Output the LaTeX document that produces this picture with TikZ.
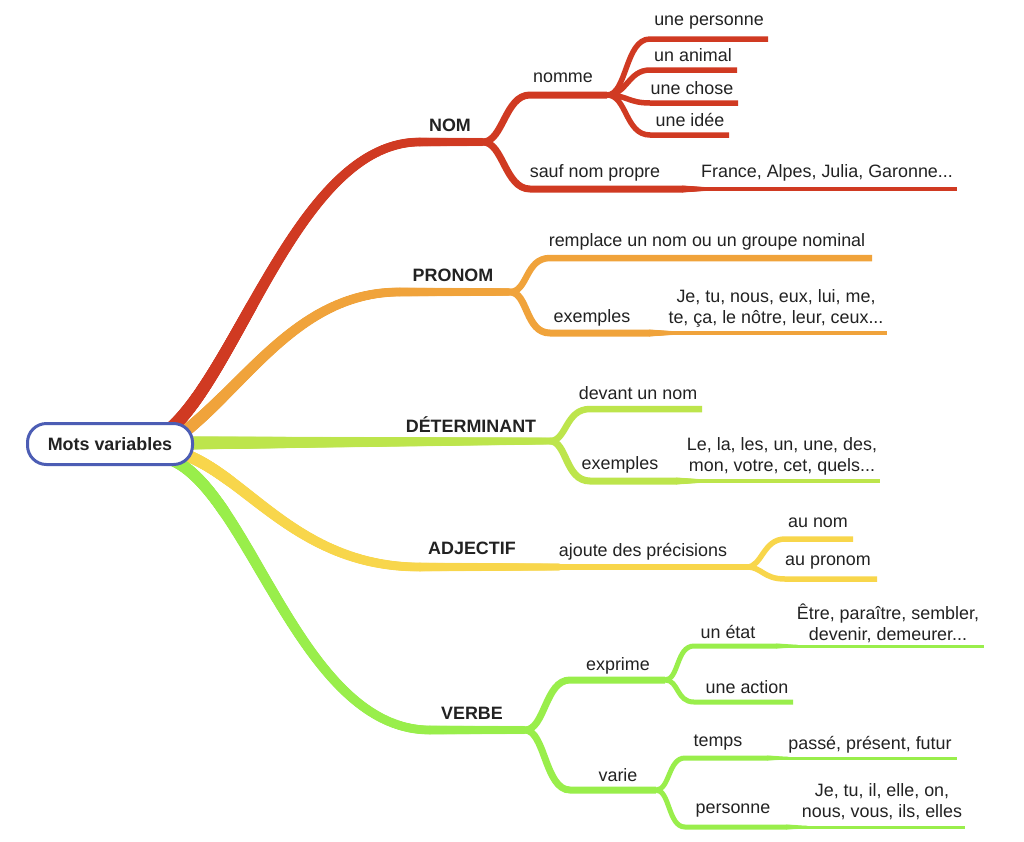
\documentclass[tikz,border=0pt]{standalone}
\usepackage{fontspec}
\setmainfont{Liberation Sans}
\usetikzlibrary{decorations.markings,backgrounds,calc}
\definecolor{cRed}{RGB}{208,58,34}
\definecolor{cOra}{RGB}{240,163,59}
\definecolor{cDet}{RGB}{189,229,76}
\definecolor{cYel}{RGB}{248,214,75}
\definecolor{cVer}{RGB}{153,238,75}
\definecolor{cBlu}{RGB}{76,93,180}
\definecolor{cTxt}{RGB}{34,34,34}
\tikzset{
  lbl/.style={font=\fontsize{17.9}{21}\selectfont, text=cTxt, inner sep=0pt, align=center},
  head/.style={lbl, font=\fontsize{17.9}{21}\selectfont\bfseries},
  rootbox/.style={draw=cBlu, line width=3pt, fill=white, rounded corners=19pt,
    minimum width=165pt, minimum height=41pt, inner sep=0pt, text=cTxt,
    font=\fontsize{17.9}{21}\selectfont\bfseries},
  taper/.style n args={3}{
    decoration={markings,
      mark=between positions 0 and 1 step 1pt with {
        \pgfmathsetmacro\tapr{0.5*(#1+(#2-#1)*\pgfkeysvalueof{/pgf/decoration/mark info/distance from start}/\pgfdecoratedpathlength)}
        \fill[#3] (0,0) circle[radius=\tapr pt];
      }},
    decorate},
  brA/.style={line width=7pt},
  brB/.style={line width=6.5pt},
  brC/.style={line width=5.5pt},
  brD/.style={line width=5pt},
  thinA/.style={line width=4pt},
  thinB/.style={line width=3pt}
}
\begin{document}
\begin{tikzpicture}[x=1pt,y=-1pt]
\useasboundingbox (0,0) rectangle (1024,841);
\node[rootbox] (root) at (110,444) {Mots variables};

% start points (behind root) and junctions
\coordinate (s1) at (168,431);
\coordinate (s2) at (183,433);
\coordinate (s3) at (186,443);
\coordinate (s4) at (186,455);
\coordinate (s5) at (170,459);
\coordinate (j1) at (483,142);
\coordinate (j1a) at (607,95);
\coordinate (j2) at (510,292);
\coordinate (j3) at (550,441);
\coordinate (j4) at (747,567);
\coordinate (j5) at (525,730);
\coordinate (j5a) at (665,680);
\coordinate (j5b) at (656,790);

% end points
\coordinate (e11) at (768,39);
\coordinate (e12) at (737,70);
\coordinate (e13) at (738,103);
\coordinate (e14) at (729,135);
\coordinate (t1) at (683,189);
\coordinate (e15) at (957,189);
\coordinate (e21) at (872,258);
\coordinate (t2) at (650,333);
\coordinate (e22) at (887,333);
\coordinate (e31) at (702,409);
\coordinate (t3) at (677,481);
\coordinate (e32) at (880,481);
\coordinate (e41) at (853,539);
\coordinate (e42) at (877,579);
\coordinate (t51) at (777,646);
\coordinate (e51) at (984,646);
\coordinate (e52) at (793,702);
\coordinate (t53) at (768,758);
\coordinate (e53) at (957,758);
\coordinate (t54) at (787,827);
\coordinate (e54) at (965,827);

\begin{scope}[on background layer]
\fill[white] (0,0) rectangle (1024,841);
% ---- main branches (tapered)
\path[taper={13}{8}{cRed}] (s1) .. controls (240,370) and (300,142) .. (420,142) -- (j1);
\path[taper={12}{7.5}{cOra}] (s2) .. controls (250,380) and (300,292) .. (400,292) -- (j2);
\path[taper={13}{7}{cDet}] (s3) -- (j3);
\path[taper={12}{7}{cYel}] (s4) .. controls (250,480) and (300,567) .. (420,567) -- (560,567);
\path[taper={12}{8}{cVer}] (s5) .. controls (250,490) and (300,730) .. (430,730) -- (j5);

% ---- NOM
\draw[cRed,brA] (j1) .. controls (503,142) and (505,95) .. (530,95) -- (j1a);
\draw[cRed,brA] (j1) .. controls (503,142) and (505,189) .. (530,189) -- (t1);
\path[taper={7}{4}{cRed}] (t1) -- ++(22,0);
\draw[cRed,thinA] (t1) -- (e15);
\draw[cRed,brC] (j1a) .. controls (627,95) and (625,39) .. (650,39) -- (e11);
\draw[cRed,brC] (j1a) .. controls (627,95) and (628,70) .. (650,70) -- (e12);
\draw[cRed,brC] (j1a) .. controls (627,95) and (628,103) .. (650,103) -- (e13);
\draw[cRed,brC] (j1a) .. controls (627,95) and (625,135) .. (650,135) -- (e14);

% ---- PRONOM
\draw[cOra,brB] (j2) .. controls (528,292) and (525,258) .. (550,258) -- (e21);
\draw[cOra,brA] (j2) .. controls (528,292) and (525,333) .. (550,333) -- (t2);
\path[taper={7}{4}{cOra}] (t2) -- ++(22,0);
\draw[cOra,thinA] (t2) -- (e22);

% ---- DETERMINANT
\draw[cDet,brB] (j3) .. controls (567,441) and (565,409) .. (590,409) -- (e31);
\draw[cDet,brA] (j3) .. controls (567,441) and (565,481) .. (590,481) -- (t3);
\path[taper={7}{4}{cDet}] (t3) -- ++(22,0);
\draw[cDet,thinA] (t3) -- (e32);

% ---- ADJECTIF
\draw[cYel,brB] (540,567) -- (j4);
\draw[cYel,brC] (j4) .. controls (762,567) and (763,539) .. (785,539) -- (e41);
\draw[cYel,brC] (j4) .. controls (762,567) and (763,579) .. (785,579) -- (e42);

% ---- VERBE
\draw[cVer,brA] (j5) .. controls (545,730) and (545,680) .. (570,680) -- (j5a);
\draw[cVer,brA] (j5) .. controls (545,730) and (545,790) .. (570,790) -- (j5b);
\draw[cVer,brD] (j5a) .. controls (679,680) and (676,646) .. (694,646) -- (t51);
\path[taper={5}{3}{cVer}] (t51) -- ++(20,0);
\draw[cVer,thinB] (t51) -- (e51);
\draw[cVer,brD] (j5a) .. controls (679,680) and (676,702) .. (694,702) -- (e52);
\draw[cVer,brD] (j5b) .. controls (670,790) and (668,758) .. (685,758) -- (t53);
\path[taper={5}{3}{cVer}] (t53) -- ++(20,0);
\draw[cVer,thinB] (t53) -- (e53);
\draw[cVer,brD] (j5b) .. controls (670,790) and (668,827) .. (685,827) -- (t54);
\path[taper={5}{3}{cVer}] (t54) -- ++(20,0);
\draw[cVer,thinB] (t54) -- (e54);
\end{scope}

% ---- labels
\node[head] (nom) at (450,125) {NOM};
\node[lbl] (nomme) at (563,78) {nomme};
\node[lbl] (pers) at (709,23) {une personne};
\node[lbl] (anim) at (693,55) {un animal};
\node[lbl] (chose) at (692,88) {une chose};
\node[lbl] (idee) at (690,120) {une idée};
\node[lbl] (sauf) at (595,173) {sauf nom propre};
\node[lbl] (france) at (827,173) {France, Alpes, Julia, Garonne...};

\node[head] (pronom) at (453,275) {PRONOM};
\node[lbl] (rempl) at (707,242) {remplace un nom ou un groupe nominal};
\node[lbl] (ex1) at (592,318) {exemples};
\node[lbl] (exl1) at (776,308) {Je, tu, nous, eux, lui, me,\\te, ça, le nôtre, leur, ceux...};

\node[head] (det) at (471,425) {DÉTERMINANT};
\node[lbl] (devant) at (638,393) {devant un nom};
\node[lbl] (ex2) at (620,465) {exemples};
\node[lbl] (exl2) at (782,456) {Le, la, les, un, une, des,\\mon, votre, cet, quels...};

\node[head] (adj) at (472,548) {ADJECTIF};
\node[lbl] (ajoute) at (643,552) {ajoute des précisions};
\node[lbl] (aunom) at (818,523) {au nom};
\node[lbl] (aupro) at (828,563) {au pronom};

\node[head] (verbe) at (472,713) {VERBE};
\node[lbl] (exprime) at (618,666) {exprime};
\node[lbl] (etat) at (728,632) {un état};
\node[lbl] (etatl) at (888,623) {Être, paraître, sembler,\\devenir, demeurer...};
\node[lbl] (action) at (747,687) {une action};
\node[lbl] (varie) at (618,775) {varie};
\node[lbl] (temps) at (718,743) {temps};
\node[lbl] (tempsl) at (870,745) {passé, présent, futur};
\node[lbl] (personne) at (733,811) {personne};
\node[lbl] (persl) at (882,802) {Je, tu, il, elle, on,\\nous, vous, ils, elles};
\end{tikzpicture}
\end{document}
